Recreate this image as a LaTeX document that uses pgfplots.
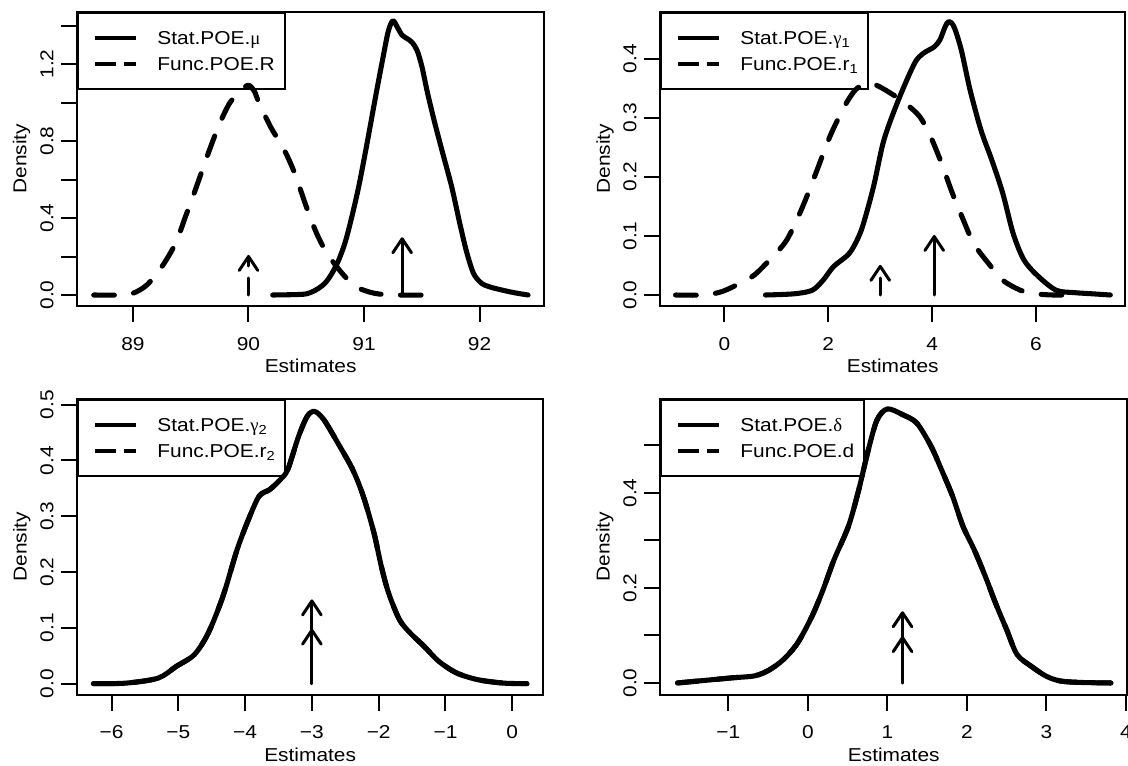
\documentclass[border=0pt]{standalone}
\usepackage{pgfplots}
\pgfplotsset{compat=1.18}
\usepackage{fontspec}
\setmainfont{Liberation Sans}[FakeStretch=1.12]
\newfontfamily\grk{Liberation Serif}
\usetikzlibrary{arrows.meta}

\pgfplotsset{
  rpanel/.style={
    scale only axis, anchor=south west,
    axis line style={line width=1.5pt},
    every tick/.style={line width=1.5pt, black},
    major tick length=12pt,
    tick align=outside,
    xtick pos=bottom, ytick pos=left,
    minor tick num=0,
    font=\fontsize{14}{16}\selectfont,
    xticklabel style={anchor=base, inner sep=0pt},
    xticklabel shift=21.2pt,
    yticklabel style={rotate=90, anchor=base, inner sep=0pt},
    yticklabel shift=6pt,
    xlabel={Estimates}, ylabel={Density},
    x label style={at={(axis description cs:0.5,0)}, anchor=base, yshift=-50pt, inner sep=0pt},
    y label style={at={(axis description cs:-0.109,0.5)}, anchor=base, inner sep=0pt},
    legend cell align=left,
    legend style={at={(rel axis cs:0,1)}, anchor=north west, draw=black, line width=1.5pt,
      fill=none, inner xsep=0pt, inner ysep=9.7pt, row sep=0pt, column sep=0pt,
      nodes={inner sep=0pt, text height=14.5pt, text depth=4.5pt, text width=96pt, align=left}},
  },
  solidcurve/.style={black, line width=3.8pt, line join=round, line cap=round, mark=none,
    smooth, tension=0.5,
    legend image code/.code={\path[draw=none,fill=none] (0pt,0pt) -- (59.3pt,0pt);
      \draw[line width=3pt, solid, line cap=butt] (12.5pt,0pt) -- (43.3pt,0pt);}},
  dashedcurve/.style={black, line width=3.8pt, line join=round, line cap=round, mark=none,
    smooth, tension=0.5,
    dash pattern=on 15.5pt off 14.5pt,
    legend image code/.code={\path[draw=none,fill=none] (0pt,0pt) -- (59.3pt,0pt);
      \draw[line width=3pt, dash pattern=on 15.75pt off 6.2pt, line cap=butt] (12.5pt,0pt) -- (43.3pt,0pt);}},
  arrowsolid/.style={black, line width=2.25pt, mark=none, forget plot, line cap=round,
    -{Straight Barb[length=10.5pt,width=14pt,round]}},
  arrowdashed/.style={black, line width=2.25pt, mark=none, forget plot, line cap=round,
    dash pattern=on 12.75pt off 9pt, -{Straight Barb[length=10.5pt,width=14pt,round]}},
}

\begin{document}
\begin{tikzpicture}
\path[use as bounding box] (0,0) rectangle (846pt,574.5pt);

% ---------- panel 1 ----------
\begin{axis}[rpanel, at={(57.98pt,345pt)}, width=350pt, height=220.7pt,
  xmin=88.518, xmax=92.558, ymin=-0.0571, ymax=1.472,
  xtick={89,90,91,92}, xticklabels={89,90,91,92},
  ytick={0,0.2,0.4,0.6,0.8,1.0,1.2,1.4}, yticklabels={0.0,,0.4,,0.8,,1.2,}]
\addplot[solidcurve] coordinates {(90.21,0) (90.4,0.002) (90.5,0.006) (90.58,0.025) (90.66,0.06)
  (90.72,0.11) (90.78,0.18) (90.84,0.28) (90.9,0.42) (90.96,0.58) (91.03,0.8) (91.1,1.03)
  (91.16,1.22) (91.21,1.37) (91.25,1.425) (91.29,1.39) (91.33,1.35) (91.38,1.33) (91.42,1.31)
  (91.46,1.27) (91.50,1.19) (91.55,1.05) (91.61,0.9) (91.68,0.74) (91.76,0.56) (91.83,0.37)
  (91.89,0.22) (91.95,0.11) (92.02,0.06) (92.1,0.04) (92.2,0.025) (92.3,0.012) (92.42,0)};
\addlegendentry{Stat.POE.{\grk μ}}
\addplot[dashedcurve] coordinates {(88.66,0) (88.88,0) (89.0,0.009) (89.12,0.052) (89.25,0.147)
  (89.37,0.27) (89.45,0.4) (89.53,0.53) (89.66,0.75) (89.75,0.89) (89.84,1.0) (89.94,1.065)
  (90.0,1.09) (90.05,1.06) (90.09,1.0) (90.19,0.875) (90.31,0.753) (90.4,0.632) (90.5,0.46)
  (90.59,0.32) (90.68,0.216) (90.81,0.113) (90.93,0.043) (91.09,0.009) (91.27,0) (91.59,0)};
\addlegendentry{Func.POE.R}
\addplot[arrowsolid] coordinates {(91.33,0) (91.33,0.30)};
\addplot[arrowdashed] coordinates {(90,0) (90,0.208)};
\end{axis}

% ---------- panel 2 ----------
\begin{axis}[rpanel, at={(495.3pt,345pt)}, width=348.5pt, height=220.7pt,
  xmin=-1.232, xmax=7.714, ymin=-0.0186, ymax=0.4795,
  xtick={0,2,4,6}, xticklabels={0,2,4,6},
  ytick={0,0.1,0.2,0.3,0.4}, yticklabels={0.0,0.1,0.2,0.3,0.4}]
\addplot[solidcurve] coordinates {(0.79,0) (1.34,0.002) (1.69,0.008) (1.90,0.025) (2.10,0.048)
  (2.38,0.068) (2.52,0.087) (2.66,0.116) (2.87,0.183) (3.07,0.262) (3.35,0.330) (3.66,0.392)
  (3.83,0.409) (4.04,0.420) (4.15,0.432) (4.25,0.454) (4.32,0.463) (4.42,0.454) (4.56,0.415)
  (4.73,0.347) (4.94,0.279) (5.15,0.228) (5.36,0.172) (5.56,0.104) (5.77,0.059) (6.05,0.031)
  (6.39,0.008) (6.74,0.004) (7.09,0.002) (7.43,0)};
\addlegendentry{Stat.POE.{\grk γ}\textsubscript{1}}
\addplot[dashedcurve] coordinates {(-0.94,0) (-0.39,0) (-0.04,0.006) (0.30,0.02) (0.58,0.034)
  (0.93,0.065) (1.20,0.093) (1.48,0.144) (1.76,0.206) (2.03,0.268) (2.31,0.319) (2.52,0.347)
  (2.73,0.358) (2.93,0.355) (3.21,0.341) (3.49,0.324) (3.76,0.302) (3.97,0.268) (4.18,0.223)
  (4.39,0.172) (4.60,0.127) (4.80,0.087) (5.08,0.054) (5.36,0.025) (5.70,0.008) (5.98,0.002)
  (6.33,0) (6.74,0)};
\addlegendentry{Func.POE.r\textsubscript{1}}
\addplot[arrowsolid] coordinates {(4.04,0) (4.04,0.1016)};
\addplot[arrowdashed] coordinates {(3.0,0) (3.0,0.051)};
\end{axis}

% ---------- panel 3 ----------
\begin{axis}[rpanel, at={(57.98pt,53.5pt)}, width=349.3pt, height=222pt,
  xmin=-6.512, xmax=0.461, ymin=-0.0197, ymax=0.5108,
  xtick={-6,-5,-4,-3,-2,-1,0}, xticklabels={−6,−5,−4,−3,−2,−1,0},
  ytick={0,0.1,0.2,0.3,0.4,0.5}, yticklabels={0.0,0.1,0.2,0.3,0.4,0.5}]
\addplot[solidcurve] coordinates {(-6.27,0) (-5.78,0.001) (-5.30,0.010) (-5.03,0.031) (-4.76,0.052)
  (-4.55,0.091) (-4.33,0.157) (-4.12,0.240) (-3.95,0.294) (-3.79,0.336) (-3.63,0.348)
  (-3.47,0.366) (-3.36,0.384) (-3.20,0.443) (-3.07,0.479) (-2.96,0.488) (-2.82,0.473)
  (-2.61,0.431) (-2.39,0.384) (-2.23,0.336) (-2.07,0.270) (-1.96,0.210) (-1.85,0.162)
  (-1.69,0.115) (-1.53,0.091) (-1.32,0.067) (-1.10,0.040) (-0.83,0.019) (-0.51,0.007)
  (-0.13,0.001) (0.22,0)};
\addlegendentry{Stat.POE.{\grk γ}\textsubscript{2}}
\addplot[dashedcurve] coordinates {(-6.27,0) (-5.78,0.001) (-5.30,0.010) (-5.03,0.031) (-4.76,0.052)
  (-4.55,0.091) (-4.33,0.157) (-4.12,0.240) (-3.95,0.294) (-3.79,0.336) (-3.63,0.348)
  (-3.47,0.366) (-3.36,0.384) (-3.20,0.443) (-3.07,0.479) (-2.96,0.490) (-2.82,0.473)
  (-2.61,0.431) (-2.39,0.384) (-2.23,0.336) (-2.07,0.270) (-1.96,0.210) (-1.85,0.162)
  (-1.69,0.115) (-1.53,0.091) (-1.32,0.067) (-1.10,0.040) (-0.83,0.019) (-0.51,0.007)
  (-0.13,0.001) (0.22,0)};
\addlegendentry{Func.POE.r\textsubscript{2}}
\addplot[arrowsolid] coordinates {(-3,0) (-3,0.151)};
\addplot[arrowdashed] coordinates {(-3,0) (-3,0.0986)};
\end{axis}

% ---------- panel 4 ----------
\begin{axis}[rpanel, at={(495.3pt,53.5pt)}, width=350pt, height=222pt,
  xmin=-1.855, xmax=4.014, ymin=-0.0246, ymax=0.5986,
  xtick={-1,0,1,2,3,4}, xticklabels={−1,0,1,2,3,4},
  ytick={0,0.1,0.2,0.3,0.4,0.5}, yticklabels={0.0,,0.2,,0.4,},
  legend style={nodes={text width=93pt}}]
\addplot[solidcurve] coordinates {(-1.64,0) (-1.26,0.006) (-0.94,0.011) (-0.67,0.015) (-0.49,0.027)
  (-0.31,0.049) (-0.13,0.084) (0.05,0.140) (0.19,0.196) (0.33,0.260) (0.51,0.330) (0.64,0.407)
  (0.76,0.491) (0.87,0.554) (1.0,0.577) (1.19,0.565) (1.37,0.547) (1.55,0.498) (1.68,0.449)
  (1.82,0.393) (1.95,0.330) (2.09,0.281) (2.23,0.225) (2.36,0.168) (2.50,0.112) (2.63,0.060)
  (2.81,0.035) (3.00,0.014) (3.18,0.004) (3.45,0.001) (3.81,0)};
\addlegendentry{Stat.POE.{\grk δ}}
\addplot[dashedcurve] coordinates {(-1.64,0) (-1.26,0.006) (-0.94,0.011) (-0.67,0.015) (-0.49,0.027)
  (-0.31,0.049) (-0.13,0.084) (0.05,0.140) (0.19,0.196) (0.33,0.260) (0.51,0.330) (0.64,0.407)
  (0.76,0.491) (0.87,0.554) (1.0,0.577) (1.19,0.565) (1.37,0.547) (1.55,0.498) (1.68,0.449)
  (1.82,0.393) (1.95,0.330) (2.09,0.281) (2.23,0.225) (2.36,0.168) (2.50,0.112) (2.63,0.060)
  (2.81,0.035) (3.00,0.014) (3.18,0.004) (3.45,0.001) (3.81,0)};
\addlegendentry{Func.POE.d}
\addplot[arrowsolid] coordinates {(1.19,0) (1.19,0.151)};
\addplot[arrowdashed] coordinates {(1.19,0) (1.19,0.0986)};
\end{axis}
\end{tikzpicture}
\end{document}
